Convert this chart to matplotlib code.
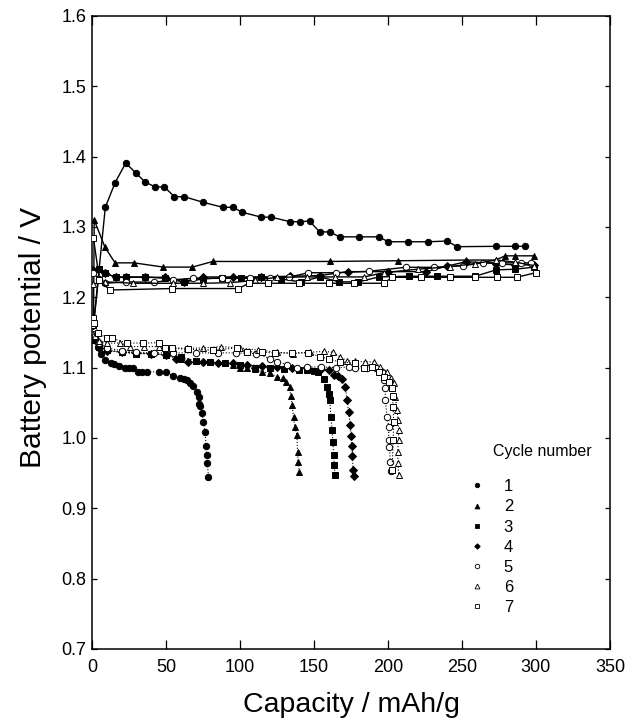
import matplotlib
matplotlib.use("Agg")
import matplotlib.pyplot as plt
from matplotlib.lines import Line2D

plt.rcParams['font.family'] = ['Liberation Sans', 'DejaVu Sans']

# ---------------- data: charge curves ----------------
c1_x = [1, 9, 15.6, 22.8, 29.5, 35.9, 42.6, 48.9, 55.7, 62.5, 75.3, 88.4, 95.2, 101.5, 114.3, 120.9,
        134, 140.8, 147, 153.8, 160.6, 167.3, 180.4, 193.7, 200.3, 213.6, 226.9, 240, 246.7, 272.7, 285.7, 292.3]
c1_v = [1.16, 1.328, 1.363, 1.391, 1.377, 1.364, 1.357, 1.357, 1.343, 1.343, 1.335, 1.328, 1.328, 1.321, 1.314, 1.314,
        1.3075, 1.3075, 1.3085, 1.293, 1.293, 1.286, 1.286, 1.286, 1.279, 1.279, 1.279, 1.28, 1.272, 1.2725, 1.2725, 1.2725]

c2_x = [1, 1.5, 8.8, 15.6, 28.4, 48.2, 67.9, 81.6, 160.6, 206.6, 253, 272.7, 279.2, 285.7, 298.6]
c2_v = [1.16, 1.31, 1.271, 1.249, 1.249, 1.243, 1.243, 1.251, 1.251, 1.252, 1.253, 1.253, 1.259, 1.259, 1.259]

c3_x = [1, 5, 9, 16, 23, 36, 49, 62, 75, 88, 101, 114, 128, 141, 154, 167, 180, 194, 214, 233, 259, 273, 286, 299]
c3_v = [1.16, 1.24, 1.234, 1.229, 1.229, 1.229, 1.227, 1.222, 1.226, 1.228, 1.228, 1.229, 1.226, 1.222, 1.229,
        1.222, 1.222, 1.229, 1.230, 1.230, 1.230, 1.239, 1.240, 1.243]

c4_x = [1, 9, 16, 23, 36, 49, 62, 75, 95, 114, 134, 154, 173, 200, 226, 240, 253, 273, 286, 299]
c4_v = [1.239, 1.234, 1.2285, 1.2285, 1.2285, 1.2285, 1.222, 1.229, 1.229, 1.229, 1.230, 1.231, 1.2365,
        1.2365, 1.2365, 1.2445, 1.2507, 1.248, 1.246, 1.246]

c5_x = [1, 5, 9, 23, 42, 55, 68.5, 88, 107, 120, 133, 146, 165, 187, 212, 231, 251, 264, 277, 290, 297]
c5_v = [1.234, 1.226, 1.22, 1.222, 1.2214, 1.225, 1.227, 1.227, 1.227, 1.228, 1.2285, 1.235, 1.235, 1.237,
        1.2427, 1.2427, 1.245, 1.249, 1.249, 1.249, 1.249]

c6_x = [1, 9, 28, 55, 75, 93, 110, 125, 145, 164, 184, 197, 220, 242, 259, 273, 286, 299]
c6_v = [1.219, 1.222, 1.220, 1.220, 1.220, 1.2208, 1.224, 1.2285, 1.229, 1.229, 1.229, 1.235, 1.24, 1.2436,
        1.248, 1.253, 1.25, 1.245]

c7_x = [1, 5, 12, 54, 99, 106, 119, 140, 160, 177, 197, 203, 222, 242, 259, 274, 287, 300]
c7_v = [1.284, 1.225, 1.2104, 1.2125, 1.2125, 1.22, 1.22, 1.22, 1.22, 1.22, 1.22, 1.2285, 1.2285, 1.2285,
        1.2285, 1.2285, 1.2285, 1.235]

# ---------------- data: discharge curves ----------------
d1_x = [0.5, 1.4, 4, 6, 8.8, 12.6, 15, 18, 22.3, 25, 28, 31.3, 34, 37, 45, 50, 55, 59.5, 62, 64, 66.5,
        68.5, 70.8, 72, 72.6, 73.2, 74.2, 75.3, 76.4, 77.1, 77.6, 78, 78.7]
d1_v = [1.16, 1.1417, 1.13, 1.12, 1.111, 1.107, 1.105, 1.103, 1.100, 1.100, 1.100, 1.094, 1.094, 1.094,
        1.094, 1.094, 1.088, 1.086, 1.084, 1.0825, 1.078, 1.074, 1.066, 1.058, 1.049, 1.045, 1.035, 1.023,
        1.009, 0.988, 0.976, 0.964, 0.945]

d2_x = [0.5, 2, 5, 10, 20, 30, 40, 50, 60, 70, 80, 90, 95, 100, 105, 110, 115, 120, 125, 129, 131, 133.5,
        134.4, 135.2, 136.2, 137, 138.5, 138.9, 139.3, 140]
d2_v = [1.16, 1.14, 1.13, 1.125, 1.122, 1.12, 1.12, 1.118, 1.113, 1.11, 1.108, 1.106, 1.104, 1.10, 1.10,
        1.098, 1.094, 1.092, 1.087, 1.085, 1.08, 1.073, 1.059, 1.047, 1.030, 1.016, 1.004, 0.9805, 0.966, 0.952]

d3_x = [0.5, 2, 5, 10, 20, 30, 40, 50, 60, 70, 80, 90, 100, 110, 120, 130, 140, 145, 150, 153, 156.5,
        158.8, 160, 160.6, 161.5, 162.2, 162.8, 163.3, 163.8, 164]
d3_v = [1.16, 1.14, 1.13, 1.125, 1.122, 1.12, 1.12, 1.118, 1.115, 1.11, 1.108, 1.107, 1.104, 1.10, 1.10,
        1.098, 1.097, 1.096, 1.095, 1.094, 1.0845, 1.073, 1.063, 1.054, 1.03, 1.011, 0.995, 0.976, 0.962, 0.947]

d4_x = [0.5, 2, 5, 10, 20, 30, 40, 50, 57, 65, 75, 85, 95, 105, 115, 125, 135, 145, 155, 160, 163.3, 166,
        169, 171.2, 172.3, 173.4, 174.6, 175.1, 175.7, 176, 176.4, 176.8]
d4_v = [1.16, 1.14, 1.128, 1.124, 1.122, 1.121, 1.12, 1.118, 1.113, 1.108, 1.108, 1.107, 1.106, 1.104,
        1.103, 1.101, 1.10, 1.10, 1.098, 1.096, 1.09, 1.088, 1.0845, 1.073, 1.054, 1.037, 1.018, 1.003,
        0.988, 0.974, 0.9545, 0.946]

d5_x = [0.5, 2, 5, 10, 20, 30, 42, 55, 70, 85, 97, 111, 120, 125, 132, 138.5, 145, 155, 165, 174, 178,
        186, 192, 196, 197.1, 198.2, 198.2, 199.4, 200.5, 200.5, 201, 201.6, 202.3]
d5_v = [1.16, 1.145, 1.135, 1.128, 1.124, 1.122, 1.121, 1.121, 1.121, 1.121, 1.121, 1.120, 1.113, 1.1085,
        1.104, 1.099, 1.101, 1.101, 1.10, 1.101, 1.099, 1.10, 1.099, 1.094, 1.082, 1.071, 1.054, 1.03, 1.016,
        0.997, 0.987, 0.966, 0.953]

d6_x = [0.5, 2, 5, 10, 19, 26, 35, 45, 55, 64, 75, 87, 100, 112, 125, 136, 147, 157, 163, 167.4, 172, 178,
        184.7, 190.6, 194.9, 199.4, 202, 203.9, 205, 206.1, 206.8, 207.2, 207.2, 206.6, 206.9, 207.2]
d6_v = [1.16, 1.145, 1.138, 1.135, 1.135, 1.13, 1.13, 1.13, 1.128, 1.1275, 1.128, 1.13, 1.128, 1.125,
        1.122, 1.12, 1.122, 1.123, 1.122, 1.1156, 1.11, 1.109, 1.1085, 1.108, 1.1014, 1.0943, 1.085, 1.0777,
        1.0588, 1.04, 1.025, 1.0114, 0.9972, 0.9806, 0.964, 0.947]

d7_x = [0.5, 1.4, 4.3, 10, 13.3, 23.5, 34.7, 45.6, 49.4, 53.9, 65, 82, 98, 104.6, 115, 124, 135, 146.3,
        154.2, 160, 167.4, 177.9, 183.6, 189.2, 193.8, 197.1, 200.5, 202.7, 203.2, 203.4, 203.9, 203.5, 202.8]
d7_v = [1.17, 1.163, 1.149, 1.142, 1.142, 1.135, 1.135, 1.1355, 1.1275, 1.1275, 1.126, 1.125, 1.128,
        1.1227, 1.122, 1.121, 1.121, 1.1213, 1.1156, 1.112, 1.1085, 1.1062, 1.0991, 1.1014, 1.0943, 1.0872,
        1.0801, 1.0706, 1.059, 1.0446, 1.0232, 0.997, 0.9545]

cycle_labels = ['1', '2', '3', '4', '5', '6', '7']
x_ticks = [0, 50, 100, 150, 200, 250, 300, 350]
y_ticks = [0.7, 0.8, 0.9, 1.0, 1.1, 1.2, 1.3, 1.4, 1.5, 1.6]

# ---------------- styles ----------------
markers = ['o', '^', 's', 'D', 'o', '^', 's']
msizes = [4.6, 5.0, 4.2, 4.0, 4.6, 5.0, 4.4]
faces = ['black', 'black', 'black', 'black', 'white', 'white', 'white']

charges = [(c1_x, c1_v), (c2_x, c2_v), (c3_x, c3_v), (c4_x, c4_v), (c5_x, c5_v), (c6_x, c6_v), (c7_x, c7_v)]
discharges = [(d1_x, d1_v), (d2_x, d2_v), (d3_x, d3_v), (d4_x, d4_v), (d5_x, d5_v), (d6_x, d6_v), (d7_x, d7_v)]

fig = plt.figure(figsize=(6.38, 7.27), dpi=100)
ax = fig.add_axes([0.1442, 0.1073, 0.8118, 0.8707])

for i in range(7):
    cx, cv = charges[i]
    ax.plot(cx, cv, '-', color='black', lw=1.0, marker=markers[i], ms=msizes[i],
            mfc=faces[i], mec='black', mew=0.7, zorder=3)
    dx, dv = discharges[i]
    ax.plot(dx, dv, ':', color='black', lw=0.8, marker=markers[i], ms=msizes[i],
            mfc=faces[i], mec='black', mew=0.7, zorder=3)

ax.set_xlim(0, 350)
ax.set_ylim(0.7, 1.6)
ax.set_xticks(x_ticks)
ax.set_yticks(y_ticks)
ax.set_xticklabels([str(t) for t in x_ticks])
ax.set_yticklabels([f"{t:.1f}" for t in y_ticks])
ax.tick_params(axis='x', direction='in', length=6.5, width=0.9, top=True, labelsize=13, pad=7)
ax.tick_params(axis='y', direction='in', length=3.6, width=0.9, right=True, labelsize=13, pad=4)
for s in ax.spines.values():
    s.set_linewidth(1.1)

ax.set_xlabel('Capacity / mAh/g', fontsize=20.5, labelpad=12)
ax.set_ylabel('Battery potential / V', fontsize=21.5, labelpad=10)
ax.yaxis.label.set_y(0.492)

handles = [Line2D([], [], ls='none', marker=markers[i], ms=msizes[i] * 0.7, mfc=faces[i],
                  mec='black', mew=0.6) for i in range(7)]
leg = ax.legend(handles, cycle_labels, frameon=False, fontsize=12,
                loc='upper left', bbox_to_anchor=(0.7176, 0.2733),
                handlelength=1.2, handletextpad=1.0, labelspacing=0.31,
                borderpad=0.2, borderaxespad=0.0)
ax.text(0.870, 0.3117, 'Cycle number', transform=ax.transAxes, fontsize=11.5,
        ha='center', va='center')

fig.savefig('out.png', dpi=100)
